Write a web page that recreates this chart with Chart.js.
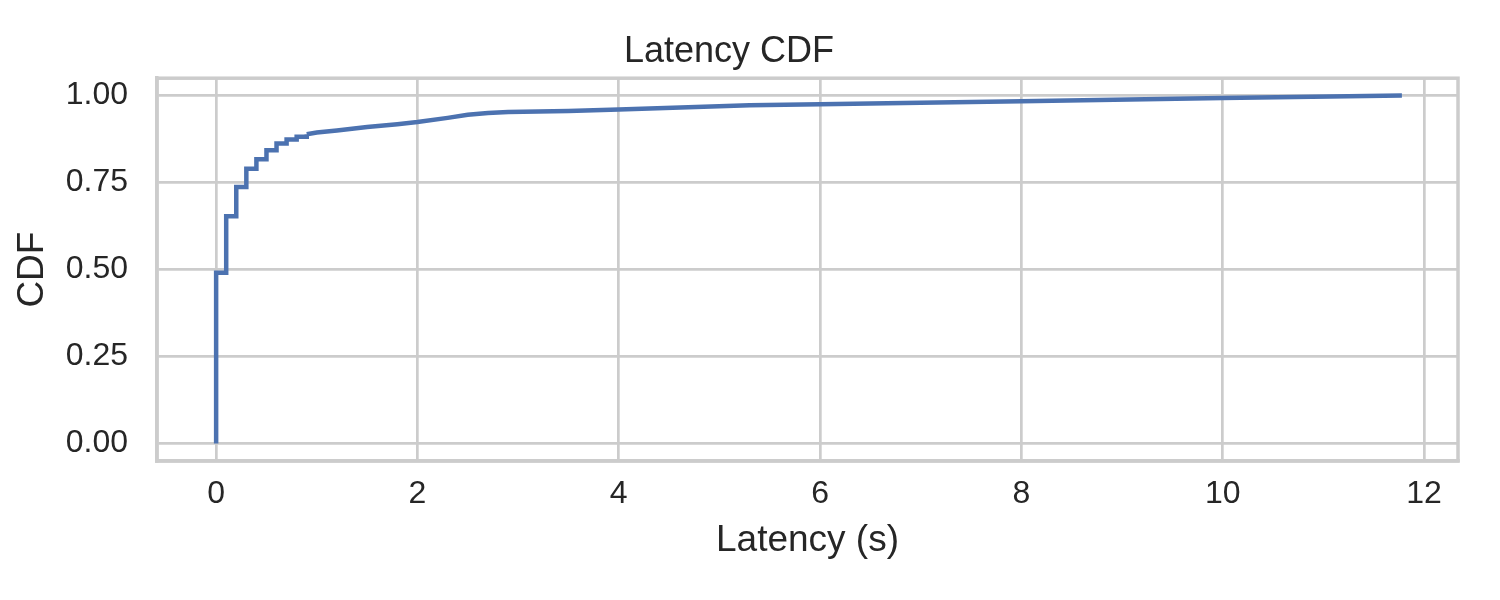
<!DOCTYPE html>
<html>
<head>
<meta charset="utf-8">
<script src="https://cdn.jsdelivr.net/npm/chart.js@4"></script>
<style>
    html, body { margin: 0; padding: 0; background: #ffffff; }
    #wrap { width: 1500px; height: 600px; }
</style>
</head>
<body>
<div id="wrap"><canvas id="grafico" width="1500" height="600"></canvas></div>
<script>
// early part of the ECDF: clear steps every 0.1 s
const stepX = [0, 0, 0.1, 0.2, 0.3, 0.4, 0.5, 0.6, 0.7, 0.8, 0.9];
const stepY = [0, 0.491, 0.653, 0.737, 0.790, 0.817, 0.843, 0.862, 0.874, 0.882, 0.889];
// long tail: steps too small to see
const tailX = [0.9, 1.0, 1.2, 1.5, 1.8, 2.0, 2.3, 2.5, 2.7, 2.9, 3.5, 4.0, 5.3, 6.0, 8.0, 10.0, 11.78];
const tailY = [0.889, 0.894, 0.900, 0.910, 0.918, 0.924, 0.936, 0.945, 0.950, 0.953, 0.956, 0.960, 0.972, 0.975, 0.984, 0.993, 1.0];
const xTicks = [0, 2, 4, 6, 8, 10, 12];
const yTicks = [0, 0.25, 0.5, 0.75, 1.0];

const corLinha = '#4c72b0';
const corGrade = '#cccccc';
const corTexto = '#262626';
const fonte = 'Liberation Sans, Arial, sans-serif';

// closes the box around the plot area (top and right sides)
const moldura = {
    id: 'moldura',
    beforeDatasetsDraw(chart) {
        const {ctx, chartArea: a} = chart;
        ctx.save();
        ctx.strokeStyle = corGrade;
        ctx.lineWidth = 3.5;
        ctx.strokeRect(a.left, a.top, a.right - a.left, a.bottom - a.top);
        ctx.restore();
    }
};

function main() {
    const ctx = document.getElementById('grafico').getContext('2d');
    const degraus = stepX.map((x, i) => ({ x: x, y: stepY[i] }));
    const cauda = tailX.map((x, i) => ({ x: x, y: tailY[i] }));

    new Chart(ctx, {
        type: 'line',
        data: {
            datasets: [
                {
                    label: 'steps',
                    data: degraus,
                    borderColor: corLinha,
                    borderWidth: 4.5,
                    stepped: 'before',
                    fill: false,
                    pointRadius: 0
                },
                {
                    label: 'tail',
                    data: cauda,
                    borderColor: corLinha,
                    borderWidth: 4.5,
                    fill: false,
                    tension: 0,
                    pointRadius: 0
                }
            ]
        },
        options: {
            animation: false,
            responsive: false,
            layout: { padding: { top: 0, right: 42, bottom: 0, left: 0 } },
            plugins: {
                legend: { display: false },
                tooltip: { enabled: false },
                title: {
                    display: true,
                    text: 'Latency CDF',
                    color: corTexto,
                    font: { family: fonte, size: 36, weight: 'normal' },
                    padding: { top: 30, bottom: 5 }
                }
            },
            scales: {
                x: {
                    type: 'linear',
                    min: -0.5875,
                    max: 12.3375,
                    afterBuildTicks: (s) => { s.ticks = xTicks.map(v => ({ value: v })); },
                    afterFit: (s) => { s.height = 139; },
                    grid: { color: corGrade, lineWidth: 2.7, drawTicks: false },
                    border: { color: corGrade, width: 3.5 },
                    ticks: {
                        color: corTexto,
                        padding: 14,
                        font: { family: fonte, size: 32 },
                        maxRotation: 0
                    },
                    title: {
                        display: true,
                        text: 'Latency (s)',
                        color: corTexto,
                        font: { family: fonte, size: 37 },
                        padding: { top: 0, bottom: 37 }
                    }
                },
                y: {
                    min: -0.05,
                    max: 1.05,
                    afterBuildTicks: (s) => { s.ticks = yTicks.map(v => ({ value: v })); },
                    afterFit: (s) => { s.width = 157; },
                    grid: { color: corGrade, lineWidth: 2.7, drawTicks: false },
                    border: { color: corGrade, width: 3.5 },
                    ticks: {
                        color: corTexto,
                        padding: 29,
                        font: { family: fonte, size: 32 },
                        callback: (v) => Number(v).toFixed(2)
                    },
                    title: {
                        display: true,
                        text: 'CDF',
                        color: corTexto,
                        font: { family: fonte, size: 37 },
                        padding: { top: 11, bottom: 0 }
                    }
                }
            }
        },
        plugins: [moldura]
    });
}

window.addEventListener('DOMContentLoaded', main);
</script>
</body>
</html>
